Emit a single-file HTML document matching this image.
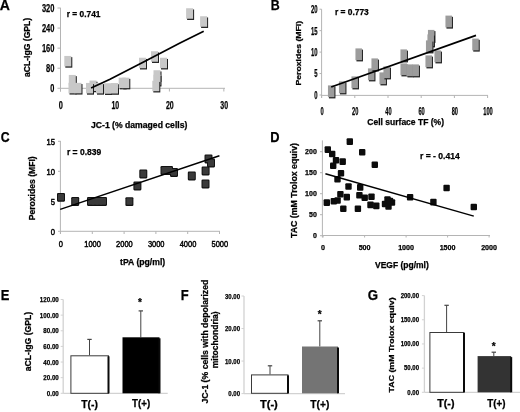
<!DOCTYPE html>
<html><head><meta charset="utf-8"><style>
html,body{margin:0;padding:0;background:#fff;}
svg{display:block;will-change:transform;filter:blur(0.3px);font-family:"Liberation Sans", sans-serif;}
</style></head><body>
<svg width="520" height="412" viewBox="0 0 520 412" font-family='"Liberation Sans", sans-serif'>
<rect width="520" height="412" fill="#fff"/>
<text x="-0.25" y="10.35" font-size="14.1" font-weight="bold" text-anchor="start" fill="#000" stroke="#000" stroke-width="0.25" textLength="10.18" lengthAdjust="spacingAndGlyphs">A</text>
<text x="270.67" y="10.35" font-size="14.1" font-weight="bold" text-anchor="start" fill="#000" stroke="#000" stroke-width="0.25" textLength="8.96" lengthAdjust="spacingAndGlyphs">B</text>
<text x="0.8" y="142.3" font-size="14.1" font-weight="bold" text-anchor="start" fill="#000" stroke="#000" stroke-width="0.25" textLength="8.86" lengthAdjust="spacingAndGlyphs">C</text>
<text x="270.34" y="142.3" font-size="14.1" font-weight="bold" text-anchor="start" fill="#000" stroke="#000" stroke-width="0.25" textLength="9.27" lengthAdjust="spacingAndGlyphs">D</text>
<text x="0.73" y="300.3" font-size="14.1" font-weight="bold" text-anchor="start" fill="#000" stroke="#000" stroke-width="0.25" textLength="8.65" lengthAdjust="spacingAndGlyphs">E</text>
<text x="180.73" y="300.3" font-size="14.1" font-weight="bold" text-anchor="start" fill="#000" stroke="#000" stroke-width="0.25" textLength="7.92" lengthAdjust="spacingAndGlyphs">F</text>
<text x="367.66" y="300.3" font-size="14.1" font-weight="bold" text-anchor="start" fill="#000" stroke="#000" stroke-width="0.25" textLength="10.31" lengthAdjust="spacingAndGlyphs">G</text>
<line x1="60.5" y1="7.8" x2="60.5" y2="91.5" stroke="#b4b4b4" stroke-width="1"/>
<line x1="60.5" y1="88.3" x2="225" y2="88.3" stroke="#b4b4b4" stroke-width="1"/>
<line x1="57.5" y1="8.0" x2="60.5" y2="8.0" stroke="#b4b4b4" stroke-width="1"/>
<text x="54.4" y="12.1" font-size="11.3" font-weight="bold" text-anchor="end" fill="#000" stroke="#000" stroke-width="0.25" textLength="12.5" lengthAdjust="spacingAndGlyphs">320</text>
<line x1="57.5" y1="28.07" x2="60.5" y2="28.07" stroke="#b4b4b4" stroke-width="1"/>
<text x="54.4" y="32.17" font-size="11.3" font-weight="bold" text-anchor="end" fill="#000" stroke="#000" stroke-width="0.25" textLength="12.5" lengthAdjust="spacingAndGlyphs">240</text>
<line x1="57.5" y1="48.14" x2="60.5" y2="48.14" stroke="#b4b4b4" stroke-width="1"/>
<text x="54.4" y="52.24" font-size="11.3" font-weight="bold" text-anchor="end" fill="#000" stroke="#000" stroke-width="0.25" textLength="12.5" lengthAdjust="spacingAndGlyphs">160</text>
<line x1="57.5" y1="68.21000000000001" x2="60.5" y2="68.21000000000001" stroke="#b4b4b4" stroke-width="1"/>
<text x="54.4" y="72.31" font-size="11.3" font-weight="bold" text-anchor="end" fill="#000" stroke="#000" stroke-width="0.25" textLength="8.4" lengthAdjust="spacingAndGlyphs">80</text>
<line x1="57.5" y1="88.28" x2="60.5" y2="88.28" stroke="#b4b4b4" stroke-width="1"/>
<text x="54.4" y="92.38" font-size="11.3" font-weight="bold" text-anchor="end" fill="#000" stroke="#000" stroke-width="0.25" textLength="4.1" lengthAdjust="spacingAndGlyphs">0</text>
<line x1="60.5" y1="88.3" x2="60.5" y2="91.5" stroke="#b4b4b4" stroke-width="1"/>
<text x="60.9" y="109.4" font-size="11.3" font-weight="bold" text-anchor="middle" fill="#000" stroke="#000" stroke-width="0.25" textLength="4.1" lengthAdjust="spacingAndGlyphs">0</text>
<line x1="114.95" y1="88.3" x2="114.95" y2="91.5" stroke="#b4b4b4" stroke-width="1"/>
<text x="115.35000000000001" y="109.4" font-size="11.3" font-weight="bold" text-anchor="middle" fill="#000" stroke="#000" stroke-width="0.25" textLength="7.8" lengthAdjust="spacingAndGlyphs">10</text>
<line x1="169.4" y1="88.3" x2="169.4" y2="91.5" stroke="#b4b4b4" stroke-width="1"/>
<text x="169.8" y="109.4" font-size="11.3" font-weight="bold" text-anchor="middle" fill="#000" stroke="#000" stroke-width="0.25" textLength="7.8" lengthAdjust="spacingAndGlyphs">20</text>
<line x1="223.85000000000002" y1="88.3" x2="223.85000000000002" y2="91.5" stroke="#b4b4b4" stroke-width="1"/>
<text x="224.25000000000003" y="109.4" font-size="11.3" font-weight="bold" text-anchor="middle" fill="#000" stroke="#000" stroke-width="0.25" textLength="7.8" lengthAdjust="spacingAndGlyphs">30</text>
<text x="91.0" y="128.2" font-size="8.4" font-weight="bold" text-anchor="start" fill="#000" stroke="#000" stroke-width="0.25" textLength="96.4" lengthAdjust="spacingAndGlyphs">JC-1 (% damaged cells)</text>
<text x="30.2" y="77.0" font-size="8.6" font-weight="bold" text-anchor="start" fill="#000" stroke="#000" stroke-width="0.25" textLength="59.2" lengthAdjust="spacingAndGlyphs" transform="rotate(-90 30.2 77.0)">aCL-IgG (GPL)</text>
<text x="66.8" y="17.0" font-size="8.3" font-weight="bold" text-anchor="start" fill="#000" stroke="#000" stroke-width="0.25" textLength="33.7" lengthAdjust="spacingAndGlyphs">r = 0.741</text>
<rect x="65.3" y="57.150000000000006" width="7" height="10.5" fill="#1e1e1e"/>
<rect x="64.3" y="55.95" width="7" height="10.5" fill="#c8c8c8"/>
<rect x="69.8" y="76.15" width="7" height="10.5" fill="#1e1e1e"/>
<rect x="68.8" y="74.95" width="7" height="10.5" fill="#c8c8c8"/>
<rect x="69.5" y="84.05" width="7" height="10.5" fill="#1e1e1e"/>
<rect x="68.5" y="82.85" width="7" height="10.5" fill="#c8c8c8"/>
<rect x="75.5" y="84.05" width="7" height="10.5" fill="#1e1e1e"/>
<rect x="74.5" y="82.85" width="7" height="10.5" fill="#c8c8c8"/>
<rect x="90.5" y="81.75" width="7" height="10.5" fill="#1e1e1e"/>
<rect x="89.5" y="80.55" width="7" height="10.5" fill="#c8c8c8"/>
<rect x="87.0" y="84.15" width="7" height="10.5" fill="#1e1e1e"/>
<rect x="86.0" y="82.95" width="7" height="10.5" fill="#c8c8c8"/>
<rect x="97.0" y="84.15" width="7" height="10.5" fill="#1e1e1e"/>
<rect x="96.0" y="82.95" width="7" height="10.5" fill="#c8c8c8"/>
<rect x="105.0" y="84.45" width="7" height="10.5" fill="#1e1e1e"/>
<rect x="104.0" y="83.25" width="7" height="10.5" fill="#c8c8c8"/>
<rect x="112.0" y="84.25" width="7" height="10.5" fill="#1e1e1e"/>
<rect x="111.0" y="83.05" width="7" height="10.5" fill="#c8c8c8"/>
<rect x="119.7" y="78.85000000000001" width="7" height="10.5" fill="#1e1e1e"/>
<rect x="118.7" y="77.65" width="7" height="10.5" fill="#c8c8c8"/>
<rect x="123.3" y="78.85000000000001" width="7" height="10.5" fill="#1e1e1e"/>
<rect x="122.3" y="77.65" width="7" height="10.5" fill="#c8c8c8"/>
<rect x="140.0" y="58.95" width="7" height="10.5" fill="#1e1e1e"/>
<rect x="139.0" y="57.75" width="7" height="10.5" fill="#c8c8c8"/>
<rect x="152.0" y="52.45" width="7" height="10.5" fill="#1e1e1e"/>
<rect x="151.0" y="51.25" width="7" height="10.5" fill="#c8c8c8"/>
<rect x="161.0" y="58.95" width="7" height="10.5" fill="#1e1e1e"/>
<rect x="160.0" y="57.75" width="7" height="10.5" fill="#c8c8c8"/>
<rect x="154.5" y="71.45" width="7" height="10.5" fill="#1e1e1e"/>
<rect x="153.5" y="70.25" width="7" height="10.5" fill="#c8c8c8"/>
<rect x="154.5" y="75.95" width="7" height="10.5" fill="#1e1e1e"/>
<rect x="153.5" y="74.75" width="7" height="10.5" fill="#c8c8c8"/>
<rect x="153.3" y="81.95" width="7" height="10.5" fill="#1e1e1e"/>
<rect x="152.3" y="80.75" width="7" height="10.5" fill="#c8c8c8"/>
<rect x="187.1" y="9.45" width="7" height="10.5" fill="#1e1e1e"/>
<rect x="186.1" y="8.25" width="7" height="10.5" fill="#c8c8c8"/>
<rect x="201.1" y="17.45" width="7" height="10.5" fill="#1e1e1e"/>
<rect x="200.1" y="16.25" width="7" height="10.5" fill="#c8c8c8"/>
<polyline points="91.1,88.0 110,79.2 145,61.2 180,43.0 203.7,31.3" fill="none" stroke="#000" stroke-width="1.7"/>
<line x1="321.6" y1="9.2" x2="321.6" y2="98" stroke="#b4b4b4" stroke-width="1"/>
<line x1="321.6" y1="95.4" x2="488" y2="95.4" stroke="#b4b4b4" stroke-width="1"/>
<line x1="319.5" y1="9.2" x2="321.6" y2="9.2" stroke="#b4b4b4" stroke-width="1"/>
<text x="317.5" y="13.1" font-size="10.9" font-weight="bold" text-anchor="end" fill="#000" stroke="#000" stroke-width="0.25" textLength="6.6" lengthAdjust="spacingAndGlyphs">20</text>
<line x1="319.5" y1="30.65" x2="321.6" y2="30.65" stroke="#b4b4b4" stroke-width="1"/>
<text x="317.5" y="34.55" font-size="10.9" font-weight="bold" text-anchor="end" fill="#000" stroke="#000" stroke-width="0.25" textLength="6.6" lengthAdjust="spacingAndGlyphs">15</text>
<line x1="319.5" y1="52.099999999999994" x2="321.6" y2="52.099999999999994" stroke="#b4b4b4" stroke-width="1"/>
<text x="317.5" y="55.99999999999999" font-size="10.9" font-weight="bold" text-anchor="end" fill="#000" stroke="#000" stroke-width="0.25" textLength="6.6" lengthAdjust="spacingAndGlyphs">10</text>
<line x1="319.5" y1="73.55" x2="321.6" y2="73.55" stroke="#b4b4b4" stroke-width="1"/>
<text x="317.5" y="77.45" font-size="10.9" font-weight="bold" text-anchor="end" fill="#000" stroke="#000" stroke-width="0.25" textLength="3.3" lengthAdjust="spacingAndGlyphs">5</text>
<line x1="319.5" y1="95.0" x2="321.6" y2="95.0" stroke="#b4b4b4" stroke-width="1"/>
<text x="317.5" y="98.9" font-size="10.9" font-weight="bold" text-anchor="end" fill="#000" stroke="#000" stroke-width="0.25" textLength="3.3" lengthAdjust="spacingAndGlyphs">0</text>
<line x1="321.6" y1="95.4" x2="321.6" y2="98" stroke="#b4b4b4" stroke-width="1"/>
<text x="322.0" y="114.5" font-size="10.9" font-weight="bold" text-anchor="middle" fill="#000" stroke="#000" stroke-width="0.25" textLength="3.2" lengthAdjust="spacingAndGlyphs">0</text>
<line x1="354.8" y1="95.4" x2="354.8" y2="98" stroke="#b4b4b4" stroke-width="1"/>
<text x="355.2" y="114.5" font-size="10.9" font-weight="bold" text-anchor="middle" fill="#000" stroke="#000" stroke-width="0.25" textLength="6.3" lengthAdjust="spacingAndGlyphs">20</text>
<line x1="388.0" y1="95.4" x2="388.0" y2="98" stroke="#b4b4b4" stroke-width="1"/>
<text x="388.4" y="114.5" font-size="10.9" font-weight="bold" text-anchor="middle" fill="#000" stroke="#000" stroke-width="0.25" textLength="6.3" lengthAdjust="spacingAndGlyphs">40</text>
<line x1="421.20000000000005" y1="95.4" x2="421.20000000000005" y2="98" stroke="#b4b4b4" stroke-width="1"/>
<text x="421.6" y="114.5" font-size="10.9" font-weight="bold" text-anchor="middle" fill="#000" stroke="#000" stroke-width="0.25" textLength="6.3" lengthAdjust="spacingAndGlyphs">60</text>
<line x1="454.40000000000003" y1="95.4" x2="454.40000000000003" y2="98" stroke="#b4b4b4" stroke-width="1"/>
<text x="454.8" y="114.5" font-size="10.9" font-weight="bold" text-anchor="middle" fill="#000" stroke="#000" stroke-width="0.25" textLength="6.3" lengthAdjust="spacingAndGlyphs">80</text>
<line x1="487.6" y1="95.4" x2="487.6" y2="98" stroke="#b4b4b4" stroke-width="1"/>
<text x="488.0" y="114.5" font-size="10.9" font-weight="bold" text-anchor="middle" fill="#000" stroke="#000" stroke-width="0.25" textLength="9.5" lengthAdjust="spacingAndGlyphs">100</text>
<text x="367.3" y="125.0" font-size="8.5" font-weight="bold" text-anchor="start" fill="#000" stroke="#000" stroke-width="0.25" textLength="76.7" lengthAdjust="spacingAndGlyphs">Cell surface TF (%)</text>
<text x="300.6" y="85.6" font-size="7.7" font-weight="bold" text-anchor="start" fill="#000" stroke="#000" stroke-width="0.25" textLength="64.8" lengthAdjust="spacingAndGlyphs" transform="rotate(-90 300.6 85.6)">Peroxides (MFI)</text>
<text x="334.9" y="15.2" font-size="8.3" font-weight="bold" text-anchor="start" fill="#000" stroke="#000" stroke-width="0.25" textLength="33.9" lengthAdjust="spacingAndGlyphs">r = 0.773</text>
<rect x="328.95" y="86.6" width="6.5" height="11.8" fill="#1e1e1e"/>
<rect x="327.95" y="85.39999999999999" width="6.5" height="11.8" fill="#9c9c9c"/>
<rect x="339.95" y="82.6" width="6.5" height="11.8" fill="#1e1e1e"/>
<rect x="338.95" y="81.39999999999999" width="6.5" height="11.8" fill="#9c9c9c"/>
<rect x="352.45" y="77.6" width="6.5" height="11.8" fill="#1e1e1e"/>
<rect x="351.45" y="76.39999999999999" width="6.5" height="11.8" fill="#9c9c9c"/>
<rect x="356.45" y="49.6" width="6.5" height="11.8" fill="#1e1e1e"/>
<rect x="355.45" y="48.4" width="6.5" height="11.8" fill="#9c9c9c"/>
<rect x="368.95" y="69.6" width="6.5" height="11.8" fill="#1e1e1e"/>
<rect x="367.95" y="68.39999999999999" width="6.5" height="11.8" fill="#9c9c9c"/>
<rect x="372.45" y="59.6" width="6.5" height="11.8" fill="#1e1e1e"/>
<rect x="371.45" y="58.4" width="6.5" height="11.8" fill="#9c9c9c"/>
<rect x="380.45" y="73.6" width="6.5" height="11.8" fill="#1e1e1e"/>
<rect x="379.45" y="72.39999999999999" width="6.5" height="11.8" fill="#9c9c9c"/>
<rect x="384.45" y="67.6" width="6.5" height="11.8" fill="#1e1e1e"/>
<rect x="383.45" y="66.39999999999999" width="6.5" height="11.8" fill="#9c9c9c"/>
<rect x="401.45" y="50.6" width="6.5" height="11.8" fill="#1e1e1e"/>
<rect x="400.45" y="49.4" width="6.5" height="11.8" fill="#9c9c9c"/>
<rect x="401.45" y="64.6" width="6.5" height="11.8" fill="#1e1e1e"/>
<rect x="400.45" y="63.4" width="6.5" height="11.8" fill="#9c9c9c"/>
<rect x="407.45" y="65.6" width="6.5" height="11.8" fill="#1e1e1e"/>
<rect x="406.45" y="64.39999999999999" width="6.5" height="11.8" fill="#9c9c9c"/>
<rect x="413.45" y="65.6" width="6.5" height="11.8" fill="#1e1e1e"/>
<rect x="412.45" y="64.39999999999999" width="6.5" height="11.8" fill="#9c9c9c"/>
<rect x="428.95" y="31.099999999999998" width="6.5" height="11.8" fill="#1e1e1e"/>
<rect x="427.95" y="29.9" width="6.5" height="11.8" fill="#9c9c9c"/>
<rect x="428.45" y="35.6" width="6.5" height="11.8" fill="#1e1e1e"/>
<rect x="427.45" y="34.4" width="6.5" height="11.8" fill="#9c9c9c"/>
<rect x="426.95" y="41.6" width="6.5" height="11.8" fill="#1e1e1e"/>
<rect x="425.95" y="40.4" width="6.5" height="11.8" fill="#9c9c9c"/>
<rect x="426.45" y="56.6" width="6.5" height="11.8" fill="#1e1e1e"/>
<rect x="425.45" y="55.4" width="6.5" height="11.8" fill="#9c9c9c"/>
<rect x="435.45" y="51.6" width="6.5" height="11.8" fill="#1e1e1e"/>
<rect x="434.45" y="50.4" width="6.5" height="11.8" fill="#9c9c9c"/>
<rect x="446.45" y="16.8" width="6.5" height="11.8" fill="#1e1e1e"/>
<rect x="445.45" y="15.6" width="6.5" height="11.8" fill="#9c9c9c"/>
<rect x="473.25" y="39.800000000000004" width="6.5" height="11.8" fill="#1e1e1e"/>
<rect x="472.25" y="38.6" width="6.5" height="11.8" fill="#9c9c9c"/>
<line x1="331.2" y1="87.0" x2="476" y2="35.4" stroke="#000" stroke-width="1.75"/>
<line x1="60.4" y1="140.9" x2="60.4" y2="234" stroke="#b4b4b4" stroke-width="1"/>
<line x1="60.4" y1="231.3" x2="220" y2="231.3" stroke="#b4b4b4" stroke-width="1"/>
<line x1="58" y1="141.3" x2="60.4" y2="141.3" stroke="#b4b4b4" stroke-width="1"/>
<text x="55.0" y="144.60000000000002" font-size="8.5" font-weight="normal" text-anchor="end" fill="#000" textLength="8.51" lengthAdjust="spacingAndGlyphs" stroke="#000" stroke-width="0.45">15</text>
<line x1="58" y1="171.3" x2="60.4" y2="171.3" stroke="#b4b4b4" stroke-width="1"/>
<text x="55.0" y="174.60000000000002" font-size="8.5" font-weight="normal" text-anchor="end" fill="#000" textLength="8.51" lengthAdjust="spacingAndGlyphs" stroke="#000" stroke-width="0.45">10</text>
<line x1="58" y1="201.3" x2="60.4" y2="201.3" stroke="#b4b4b4" stroke-width="1"/>
<text x="55.0" y="204.60000000000002" font-size="8.5" font-weight="normal" text-anchor="end" fill="#000" textLength="4.25" lengthAdjust="spacingAndGlyphs" stroke="#000" stroke-width="0.45">5</text>
<line x1="58" y1="231.3" x2="60.4" y2="231.3" stroke="#b4b4b4" stroke-width="1"/>
<text x="55.0" y="234.60000000000002" font-size="8.5" font-weight="normal" text-anchor="end" fill="#000" textLength="4.25" lengthAdjust="spacingAndGlyphs" stroke="#000" stroke-width="0.45">0</text>
<line x1="60.5" y1="231.3" x2="60.5" y2="234" stroke="#b4b4b4" stroke-width="1"/>
<text x="60.8" y="247.1" font-size="8.5" font-weight="normal" text-anchor="middle" fill="#000" textLength="4.16" lengthAdjust="spacingAndGlyphs" stroke="#000" stroke-width="0.45">0</text>
<line x1="92.3" y1="231.3" x2="92.3" y2="234" stroke="#b4b4b4" stroke-width="1"/>
<text x="92.6" y="247.1" font-size="8.5" font-weight="normal" text-anchor="middle" fill="#000" textLength="16.64" lengthAdjust="spacingAndGlyphs" stroke="#000" stroke-width="0.45">1000</text>
<line x1="124.1" y1="231.3" x2="124.1" y2="234" stroke="#b4b4b4" stroke-width="1"/>
<text x="124.39999999999999" y="247.1" font-size="8.5" font-weight="normal" text-anchor="middle" fill="#000" textLength="16.64" lengthAdjust="spacingAndGlyphs" stroke="#000" stroke-width="0.45">2000</text>
<line x1="155.9" y1="231.3" x2="155.9" y2="234" stroke="#b4b4b4" stroke-width="1"/>
<text x="156.20000000000002" y="247.1" font-size="8.5" font-weight="normal" text-anchor="middle" fill="#000" textLength="16.64" lengthAdjust="spacingAndGlyphs" stroke="#000" stroke-width="0.45">3000</text>
<line x1="187.7" y1="231.3" x2="187.7" y2="234" stroke="#b4b4b4" stroke-width="1"/>
<text x="188.0" y="247.1" font-size="8.5" font-weight="normal" text-anchor="middle" fill="#000" textLength="16.64" lengthAdjust="spacingAndGlyphs" stroke="#000" stroke-width="0.45">4000</text>
<line x1="219.5" y1="231.3" x2="219.5" y2="234" stroke="#b4b4b4" stroke-width="1"/>
<text x="219.8" y="247.1" font-size="8.5" font-weight="normal" text-anchor="middle" fill="#000" textLength="16.64" lengthAdjust="spacingAndGlyphs" stroke="#000" stroke-width="0.45">5000</text>
<text x="120.1" y="265.3" font-size="8.6" font-weight="bold" text-anchor="start" fill="#000" stroke="#000" stroke-width="0.25" textLength="45.1" lengthAdjust="spacingAndGlyphs">tPA (pg/ml)</text>
<text x="35.5" y="220.3" font-size="8.3" font-weight="bold" text-anchor="start" fill="#000" stroke="#000" stroke-width="0.25" textLength="64.0" lengthAdjust="spacingAndGlyphs" transform="rotate(-90 35.5 220.3)">Peroxides (MFI)</text>
<text x="66.9" y="155.0" font-size="8.4" font-weight="bold" text-anchor="start" fill="#000" stroke="#000" stroke-width="0.25" textLength="34.3" lengthAdjust="spacingAndGlyphs">r = 0.839</text>
<rect x="57" y="192.9" width="8" height="8.8" fill="#121212" rx="1.1"/>
<rect x="71.2" y="197.1" width="8" height="8.8" fill="#121212" rx="1.1"/>
<rect x="87" y="197.1" width="8" height="8.8" fill="#121212" rx="1.1"/>
<rect x="91" y="197.1" width="8" height="8.8" fill="#121212" rx="1.1"/>
<rect x="95" y="197.1" width="8" height="8.8" fill="#121212" rx="1.1"/>
<rect x="99" y="197.1" width="8" height="8.8" fill="#121212" rx="1.1"/>
<rect x="125.4" y="197.2" width="8" height="8.8" fill="#121212" rx="1.1"/>
<rect x="133.4" y="181.6" width="8" height="8.8" fill="#121212" rx="1.1"/>
<rect x="139.3" y="169.6" width="8" height="8.8" fill="#121212" rx="1.1"/>
<rect x="160.5" y="166.1" width="8" height="8.8" fill="#121212" rx="1.1"/>
<rect x="165" y="166.1" width="8" height="8.8" fill="#121212" rx="1.1"/>
<rect x="170" y="168.1" width="8" height="8.8" fill="#121212" rx="1.1"/>
<rect x="187.8" y="171.6" width="8" height="8.8" fill="#121212" rx="1.1"/>
<rect x="201.5" y="179.6" width="8" height="8.8" fill="#121212" rx="1.1"/>
<rect x="201.6" y="166.6" width="8" height="8.8" fill="#121212" rx="1.1"/>
<rect x="204.5" y="154.6" width="8" height="8.8" fill="#121212" rx="1.1"/>
<rect x="207" y="158.6" width="8" height="8.8" fill="#121212" rx="1.1"/>
<rect x="58" y="193.9" width="6" height="6.6" fill="#3a3a3a" rx="0.8"/>
<rect x="72.2" y="198.1" width="6" height="6.6" fill="#3a3a3a" rx="0.8"/>
<rect x="88" y="198.1" width="6" height="6.6" fill="#3a3a3a" rx="0.8"/>
<rect x="92" y="198.1" width="6" height="6.6" fill="#3a3a3a" rx="0.8"/>
<rect x="96" y="198.1" width="6" height="6.6" fill="#3a3a3a" rx="0.8"/>
<rect x="100" y="198.1" width="6" height="6.6" fill="#3a3a3a" rx="0.8"/>
<rect x="126.4" y="198.2" width="6" height="6.6" fill="#3a3a3a" rx="0.8"/>
<rect x="134.4" y="182.6" width="6" height="6.6" fill="#3a3a3a" rx="0.8"/>
<rect x="140.3" y="170.6" width="6" height="6.6" fill="#3a3a3a" rx="0.8"/>
<rect x="161.5" y="167.1" width="6" height="6.6" fill="#3a3a3a" rx="0.8"/>
<rect x="166" y="167.1" width="6" height="6.6" fill="#3a3a3a" rx="0.8"/>
<rect x="171" y="169.1" width="6" height="6.6" fill="#3a3a3a" rx="0.8"/>
<rect x="188.8" y="172.6" width="6" height="6.6" fill="#3a3a3a" rx="0.8"/>
<rect x="202.5" y="180.6" width="6" height="6.6" fill="#3a3a3a" rx="0.8"/>
<rect x="202.6" y="167.6" width="6" height="6.6" fill="#3a3a3a" rx="0.8"/>
<rect x="205.5" y="155.6" width="6" height="6.6" fill="#3a3a3a" rx="0.8"/>
<rect x="208" y="159.6" width="6" height="6.6" fill="#3a3a3a" rx="0.8"/>
<line x1="60.2" y1="209.4" x2="219.4" y2="155.8" stroke="#000" stroke-width="1.45"/>
<line x1="322.4" y1="140.4" x2="322.4" y2="237.5" stroke="#b4b4b4" stroke-width="1"/>
<line x1="322.4" y1="235.5" x2="490" y2="235.5" stroke="#b4b4b4" stroke-width="1"/>
<line x1="320" y1="151.7" x2="322.4" y2="151.7" stroke="#b4b4b4" stroke-width="1"/>
<text x="316.8" y="154.2" font-size="7.0" font-weight="bold" text-anchor="end" fill="#000" stroke="#000" stroke-width="0.25" textLength="11.68" lengthAdjust="spacingAndGlyphs">200</text>
<line x1="320" y1="172.7" x2="322.4" y2="172.7" stroke="#b4b4b4" stroke-width="1"/>
<text x="316.8" y="175.2" font-size="7.0" font-weight="bold" text-anchor="end" fill="#000" stroke="#000" stroke-width="0.25" textLength="11.68" lengthAdjust="spacingAndGlyphs">150</text>
<line x1="320" y1="193.7" x2="322.4" y2="193.7" stroke="#b4b4b4" stroke-width="1"/>
<text x="316.8" y="196.2" font-size="7.0" font-weight="bold" text-anchor="end" fill="#000" stroke="#000" stroke-width="0.25" textLength="11.68" lengthAdjust="spacingAndGlyphs">100</text>
<line x1="320" y1="214.7" x2="322.4" y2="214.7" stroke="#b4b4b4" stroke-width="1"/>
<text x="316.8" y="217.2" font-size="7.0" font-weight="bold" text-anchor="end" fill="#000" stroke="#000" stroke-width="0.25" textLength="7.78" lengthAdjust="spacingAndGlyphs">50</text>
<line x1="320" y1="235.7" x2="322.4" y2="235.7" stroke="#b4b4b4" stroke-width="1"/>
<text x="316.8" y="238.2" font-size="7.0" font-weight="bold" text-anchor="end" fill="#000" stroke="#000" stroke-width="0.25" textLength="3.89" lengthAdjust="spacingAndGlyphs">0</text>
<line x1="323.1" y1="235.5" x2="323.1" y2="237.5" stroke="#b4b4b4" stroke-width="1"/>
<text x="323.1" y="249.8" font-size="7.3" font-weight="bold" text-anchor="middle" fill="#000" stroke="#000" stroke-width="0.25" textLength="3.98" lengthAdjust="spacingAndGlyphs">0</text>
<line x1="364.6" y1="235.5" x2="364.6" y2="237.5" stroke="#b4b4b4" stroke-width="1"/>
<text x="364.6" y="249.8" font-size="7.3" font-weight="bold" text-anchor="middle" fill="#000" stroke="#000" stroke-width="0.25" textLength="11.93" lengthAdjust="spacingAndGlyphs">500</text>
<line x1="406.1" y1="235.5" x2="406.1" y2="237.5" stroke="#b4b4b4" stroke-width="1"/>
<text x="406.1" y="249.8" font-size="7.3" font-weight="bold" text-anchor="middle" fill="#000" stroke="#000" stroke-width="0.25" textLength="15.91" lengthAdjust="spacingAndGlyphs">1000</text>
<line x1="447.6" y1="235.5" x2="447.6" y2="237.5" stroke="#b4b4b4" stroke-width="1"/>
<text x="447.6" y="249.8" font-size="7.3" font-weight="bold" text-anchor="middle" fill="#000" stroke="#000" stroke-width="0.25" textLength="15.91" lengthAdjust="spacingAndGlyphs">1500</text>
<line x1="489.1" y1="235.5" x2="489.1" y2="237.5" stroke="#b4b4b4" stroke-width="1"/>
<text x="489.1" y="249.8" font-size="7.3" font-weight="bold" text-anchor="middle" fill="#000" stroke="#000" stroke-width="0.25" textLength="15.91" lengthAdjust="spacingAndGlyphs">2000</text>
<text x="375.0" y="267.8" font-size="8.5" font-weight="bold" text-anchor="start" fill="#000" stroke="#000" stroke-width="0.25" textLength="53.8" lengthAdjust="spacingAndGlyphs">VEGF (pg/ml)</text>
<text x="296.9" y="238.0" font-size="8.2" font-weight="bold" text-anchor="start" fill="#000" stroke="#000" stroke-width="0.25" textLength="95.0" lengthAdjust="spacingAndGlyphs" transform="rotate(-90 296.9 238.0)">TAC (mM Trolox equiv)</text>
<text x="420.0" y="159.2" font-size="8.3" font-weight="bold" text-anchor="start" fill="#000" stroke="#000" stroke-width="0.25" textLength="39.8" lengthAdjust="spacingAndGlyphs">r = - 0.414</text>
<rect x="346.6" y="138.29999999999998" width="6.4" height="6.6" fill="#0c0c0c" rx="1"/>
<rect x="324.6" y="146.29999999999998" width="6.4" height="6.6" fill="#0c0c0c" rx="1"/>
<rect x="329.0" y="150.7" width="6.4" height="6.6" fill="#0c0c0c" rx="1"/>
<rect x="332.8" y="156.89999999999998" width="6.4" height="6.6" fill="#0c0c0c" rx="1"/>
<rect x="339.5" y="158.29999999999998" width="6.4" height="6.6" fill="#0c0c0c" rx="1"/>
<rect x="330.0" y="162.39999999999998" width="6.4" height="6.6" fill="#0c0c0c" rx="1"/>
<rect x="359.0" y="149.0" width="6.4" height="6.6" fill="#0c0c0c" rx="1"/>
<rect x="371.6" y="161.39999999999998" width="6.4" height="6.6" fill="#0c0c0c" rx="1"/>
<rect x="337.8" y="170.0" width="6.4" height="6.6" fill="#0c0c0c" rx="1"/>
<rect x="334.3" y="176.0" width="6.4" height="6.6" fill="#0c0c0c" rx="1"/>
<rect x="345.3" y="183.2" width="6.4" height="6.6" fill="#0c0c0c" rx="1"/>
<rect x="357.0" y="184.1" width="6.4" height="6.6" fill="#0c0c0c" rx="1"/>
<rect x="337.2" y="190.89999999999998" width="6.4" height="6.6" fill="#0c0c0c" rx="1"/>
<rect x="343.6" y="193.79999999999998" width="6.4" height="6.6" fill="#0c0c0c" rx="1"/>
<rect x="330.6" y="198.0" width="6.4" height="6.6" fill="#0c0c0c" rx="1"/>
<rect x="334.40000000000003" y="197.2" width="6.4" height="6.6" fill="#0c0c0c" rx="1"/>
<rect x="323.6" y="199.29999999999998" width="6.4" height="6.6" fill="#0c0c0c" rx="1"/>
<rect x="356.2" y="191.89999999999998" width="6.4" height="6.6" fill="#0c0c0c" rx="1"/>
<rect x="361.5" y="194.39999999999998" width="6.4" height="6.6" fill="#0c0c0c" rx="1"/>
<rect x="368.3" y="193.39999999999998" width="6.4" height="6.6" fill="#0c0c0c" rx="1"/>
<rect x="367.3" y="201.6" width="6.4" height="6.6" fill="#0c0c0c" rx="1"/>
<rect x="373.1" y="202.6" width="6.4" height="6.6" fill="#0c0c0c" rx="1"/>
<rect x="340.1" y="205.5" width="6.4" height="6.6" fill="#0c0c0c" rx="1"/>
<rect x="354.7" y="205.5" width="6.4" height="6.6" fill="#0c0c0c" rx="1"/>
<rect x="381.8" y="200.7" width="6.4" height="6.6" fill="#0c0c0c" rx="1"/>
<rect x="384.3" y="196.2" width="6.4" height="6.6" fill="#0c0c0c" rx="1"/>
<rect x="385.3" y="203.2" width="6.4" height="6.6" fill="#0c0c0c" rx="1"/>
<rect x="388.8" y="199.2" width="6.4" height="6.6" fill="#0c0c0c" rx="1"/>
<rect x="386.8" y="197.7" width="6.4" height="6.6" fill="#0c0c0c" rx="1"/>
<rect x="406.90000000000003" y="194.0" width="6.4" height="6.6" fill="#0c0c0c" rx="1"/>
<rect x="430.2" y="198.79999999999998" width="6.4" height="6.6" fill="#0c0c0c" rx="1"/>
<rect x="443.40000000000003" y="184.7" width="6.4" height="6.6" fill="#0c0c0c" rx="1"/>
<rect x="470.6" y="203.7" width="6.4" height="6.6" fill="#0c0c0c" rx="1"/>
<line x1="325.4" y1="173.8" x2="473.8" y2="216.1" stroke="#000" stroke-width="1.45"/>
<line x1="63.2" y1="299.5" x2="63.2" y2="393.3" stroke="#d2d2d2" stroke-width="1.3"/>
<line x1="63.2" y1="393.3" x2="167.7" y2="393.3" stroke="#d2d2d2" stroke-width="1.3"/>
<line x1="60.7" y1="299.5" x2="63.2" y2="299.5" stroke="#d2d2d2" stroke-width="1"/>
<text x="58.8" y="302.092" font-size="7.2" font-weight="bold" text-anchor="end" fill="#000" stroke="#000" stroke-width="0.25" textLength="18.94" lengthAdjust="spacingAndGlyphs">120.00</text>
<line x1="60.7" y1="315.1333333333333" x2="63.2" y2="315.1333333333333" stroke="#d2d2d2" stroke-width="1"/>
<text x="58.8" y="317.7253333333333" font-size="7.2" font-weight="bold" text-anchor="end" fill="#000" stroke="#000" stroke-width="0.25" textLength="18.94" lengthAdjust="spacingAndGlyphs">100.00</text>
<line x1="60.7" y1="330.76666666666665" x2="63.2" y2="330.76666666666665" stroke="#d2d2d2" stroke-width="1"/>
<text x="58.8" y="333.35866666666664" font-size="7.2" font-weight="bold" text-anchor="end" fill="#000" stroke="#000" stroke-width="0.25" textLength="15.49" lengthAdjust="spacingAndGlyphs">80.00</text>
<line x1="60.7" y1="346.4" x2="63.2" y2="346.4" stroke="#d2d2d2" stroke-width="1"/>
<text x="58.8" y="348.99199999999996" font-size="7.2" font-weight="bold" text-anchor="end" fill="#000" stroke="#000" stroke-width="0.25" textLength="15.49" lengthAdjust="spacingAndGlyphs">60.00</text>
<line x1="60.7" y1="362.03333333333336" x2="63.2" y2="362.03333333333336" stroke="#d2d2d2" stroke-width="1"/>
<text x="58.8" y="364.62533333333334" font-size="7.2" font-weight="bold" text-anchor="end" fill="#000" stroke="#000" stroke-width="0.25" textLength="15.49" lengthAdjust="spacingAndGlyphs">40.00</text>
<line x1="60.7" y1="377.6666666666667" x2="63.2" y2="377.6666666666667" stroke="#d2d2d2" stroke-width="1"/>
<text x="58.8" y="380.25866666666667" font-size="7.2" font-weight="bold" text-anchor="end" fill="#000" stroke="#000" stroke-width="0.25" textLength="15.49" lengthAdjust="spacingAndGlyphs">20.00</text>
<line x1="60.7" y1="393.3" x2="63.2" y2="393.3" stroke="#d2d2d2" stroke-width="1"/>
<text x="58.8" y="395.892" font-size="7.2" font-weight="bold" text-anchor="end" fill="#000" stroke="#000" stroke-width="0.25" textLength="12.05" lengthAdjust="spacingAndGlyphs">0.00</text>
<line x1="89.5" y1="355.3" x2="89.5" y2="339.4" stroke="#444" stroke-width="1"/>
<line x1="87.3" y1="339.4" x2="91.7" y2="339.4" stroke="#444" stroke-width="1.2"/>
<rect x="70.9" y="355.8" width="37.599999999999994" height="37.5" fill="#fff" stroke="#3a3a3a" stroke-width="1"/>
<rect x="107.5" y="356.3" width="2" height="37.0" fill="#0a0a0a"/>
<line x1="140.8" y1="337.3" x2="140.8" y2="310.9" stroke="#444" stroke-width="1"/>
<line x1="138.60000000000002" y1="310.9" x2="143.0" y2="310.9" stroke="#444" stroke-width="1.2"/>
<rect x="122.5" y="337.3" width="37.0" height="56.0" fill="#000"/>
<rect x="158.5" y="338.3" width="2" height="55.0" fill="#0a0a0a"/>
<text x="139.9" y="306.20000000000005" font-size="10" font-weight="bold" text-anchor="middle" fill="#000" stroke="#000" stroke-width="0.25">*</text>
<text x="81.3" y="407.7" font-size="10.3" font-weight="bold" text-anchor="start" fill="#000" stroke="#000" stroke-width="0.25" textLength="16.5" lengthAdjust="spacingAndGlyphs">T(-)</text>
<text x="132.0" y="407.3" font-size="10.3" font-weight="bold" text-anchor="start" fill="#000" stroke="#000" stroke-width="0.25" textLength="18.2" lengthAdjust="spacingAndGlyphs">T(+)</text>
<text x="30.6" y="371.2" font-size="8.6" font-weight="bold" text-anchor="start" fill="#000" stroke="#000" stroke-width="0.25" textLength="59.3" lengthAdjust="spacingAndGlyphs" transform="rotate(-90 30.6 371.2)">aCL-IgG (GPL)</text>
<line x1="244.0" y1="296.0" x2="244.0" y2="393.6" stroke="#d2d2d2" stroke-width="1.3"/>
<line x1="244.0" y1="393.6" x2="345" y2="393.6" stroke="#d2d2d2" stroke-width="1.3"/>
<line x1="241.5" y1="296.0" x2="244.0" y2="296.0" stroke="#d2d2d2" stroke-width="1"/>
<text x="240.0" y="298.52" font-size="7.0" font-weight="bold" text-anchor="end" fill="#000" stroke="#000" stroke-width="0.25" textLength="15.06" lengthAdjust="spacingAndGlyphs">30.00</text>
<line x1="241.5" y1="328.53333333333336" x2="244.0" y2="328.53333333333336" stroke="#d2d2d2" stroke-width="1"/>
<text x="240.0" y="331.05333333333334" font-size="7.0" font-weight="bold" text-anchor="end" fill="#000" stroke="#000" stroke-width="0.25" textLength="15.06" lengthAdjust="spacingAndGlyphs">20.00</text>
<line x1="241.5" y1="361.06666666666666" x2="244.0" y2="361.06666666666666" stroke="#d2d2d2" stroke-width="1"/>
<text x="240.0" y="363.58666666666664" font-size="7.0" font-weight="bold" text-anchor="end" fill="#000" stroke="#000" stroke-width="0.25" textLength="15.06" lengthAdjust="spacingAndGlyphs">10.00</text>
<line x1="241.5" y1="393.6" x2="244.0" y2="393.6" stroke="#d2d2d2" stroke-width="1"/>
<text x="240.0" y="396.12" font-size="7.0" font-weight="bold" text-anchor="end" fill="#000" stroke="#000" stroke-width="0.25" textLength="11.71" lengthAdjust="spacingAndGlyphs">0.00</text>
<line x1="270.0" y1="374.4" x2="270.0" y2="365.8" stroke="#444" stroke-width="1"/>
<line x1="267.8" y1="365.8" x2="272.2" y2="365.8" stroke="#444" stroke-width="1.2"/>
<rect x="251.5" y="374.9" width="36.5" height="18.400000000000034" fill="#fff" stroke="#3a3a3a" stroke-width="1"/>
<rect x="287.0" y="375.4" width="2" height="17.900000000000034" fill="#0a0a0a"/>
<line x1="319.8" y1="346.5" x2="319.8" y2="320.8" stroke="#444" stroke-width="1"/>
<line x1="317.6" y1="320.8" x2="322.0" y2="320.8" stroke="#444" stroke-width="1.2"/>
<rect x="302.0" y="346.5" width="36.0" height="46.80000000000001" fill="#747474"/>
<rect x="337.0" y="347.5" width="2" height="45.80000000000001" fill="#0a0a0a"/>
<text x="319.8" y="317.6" font-size="10" font-weight="bold" text-anchor="middle" fill="#000" stroke="#000" stroke-width="0.25">*</text>
<text x="259.9" y="407.6" font-size="10.3" font-weight="bold" text-anchor="start" fill="#000" stroke="#000" stroke-width="0.25" textLength="17.9" lengthAdjust="spacingAndGlyphs">T(-)</text>
<text x="310.3" y="407.6" font-size="10.3" font-weight="bold" text-anchor="start" fill="#000" stroke="#000" stroke-width="0.25" textLength="19.0" lengthAdjust="spacingAndGlyphs">T(+)</text>
<text x="208.5" y="403.6" font-size="8.6" font-weight="bold" text-anchor="start" fill="#000" stroke="#000" stroke-width="0.25" textLength="123.9" lengthAdjust="spacingAndGlyphs" transform="rotate(-90 208.5 403.6)">JC-1 (% cells with depolarized</text>
<text x="217.9" y="368.3" font-size="8.4" font-weight="bold" text-anchor="start" fill="#000" stroke="#000" stroke-width="0.25" textLength="57" lengthAdjust="spacingAndGlyphs" transform="rotate(-90 217.9 368.3)">mitochondria)</text>
<line x1="424.4" y1="295.6" x2="424.4" y2="392.3" stroke="#d2d2d2" stroke-width="1.3"/>
<line x1="424.4" y1="392.3" x2="520" y2="392.3" stroke="#d2d2d2" stroke-width="1.3"/>
<line x1="421.9" y1="295.6" x2="424.4" y2="295.6" stroke="#d2d2d2" stroke-width="1"/>
<text x="419.0" y="297.94" font-size="6.5" font-weight="bold" text-anchor="end" fill="#000" stroke="#000" stroke-width="0.25" textLength="18.29" lengthAdjust="spacingAndGlyphs">200.00</text>
<line x1="421.9" y1="319.77500000000003" x2="424.4" y2="319.77500000000003" stroke="#d2d2d2" stroke-width="1"/>
<text x="419.0" y="322.115" font-size="6.5" font-weight="bold" text-anchor="end" fill="#000" stroke="#000" stroke-width="0.25" textLength="18.29" lengthAdjust="spacingAndGlyphs">150.00</text>
<line x1="421.9" y1="343.95000000000005" x2="424.4" y2="343.95000000000005" stroke="#d2d2d2" stroke-width="1"/>
<text x="419.0" y="346.29" font-size="6.5" font-weight="bold" text-anchor="end" fill="#000" stroke="#000" stroke-width="0.25" textLength="18.29" lengthAdjust="spacingAndGlyphs">100.00</text>
<line x1="421.9" y1="368.125" x2="424.4" y2="368.125" stroke="#d2d2d2" stroke-width="1"/>
<text x="419.0" y="370.465" font-size="6.5" font-weight="bold" text-anchor="end" fill="#000" stroke="#000" stroke-width="0.25" textLength="14.96" lengthAdjust="spacingAndGlyphs">50.00</text>
<line x1="421.9" y1="392.3" x2="424.4" y2="392.3" stroke="#d2d2d2" stroke-width="1"/>
<text x="419.0" y="394.64" font-size="6.5" font-weight="bold" text-anchor="end" fill="#000" stroke="#000" stroke-width="0.25" textLength="11.64" lengthAdjust="spacingAndGlyphs">0.00</text>
<line x1="446.6" y1="332.0" x2="446.6" y2="305.3" stroke="#444" stroke-width="1"/>
<line x1="444.40000000000003" y1="305.3" x2="448.8" y2="305.3" stroke="#444" stroke-width="1.2"/>
<rect x="429.9" y="332.5" width="34.10000000000002" height="59.80000000000001" fill="#fff" stroke="#3a3a3a" stroke-width="1"/>
<rect x="463.0" y="333.0" width="2" height="59.30000000000001" fill="#0a0a0a"/>
<line x1="493.8" y1="356.1" x2="493.8" y2="352.2" stroke="#444" stroke-width="1"/>
<line x1="491.6" y1="352.2" x2="496.0" y2="352.2" stroke="#444" stroke-width="1.2"/>
<rect x="477.6" y="356.1" width="33.60000000000002" height="36.19999999999999" fill="#333"/>
<rect x="510.20000000000005" y="357.1" width="2" height="35.19999999999999" fill="#0a0a0a"/>
<text x="493.8" y="349.6" font-size="10" font-weight="bold" text-anchor="middle" fill="#000" stroke="#000" stroke-width="0.25">*</text>
<text x="437.3" y="406.7" font-size="10.0" font-weight="bold" text-anchor="start" fill="#000" stroke="#000" stroke-width="0.25" textLength="17.2" lengthAdjust="spacingAndGlyphs">T(-)</text>
<text x="487.3" y="406.7" font-size="10.0" font-weight="bold" text-anchor="start" fill="#000" stroke="#000" stroke-width="0.25" textLength="18.2" lengthAdjust="spacingAndGlyphs">T(+)</text>
<text x="394.1" y="392.4" font-size="7.6" font-weight="bold" text-anchor="start" fill="#000" stroke="#000" stroke-width="0.25" textLength="95" lengthAdjust="spacingAndGlyphs" transform="rotate(-90 394.1 392.4)">TAC (mM Trolox equiv)</text>
</svg>
</body></html>
